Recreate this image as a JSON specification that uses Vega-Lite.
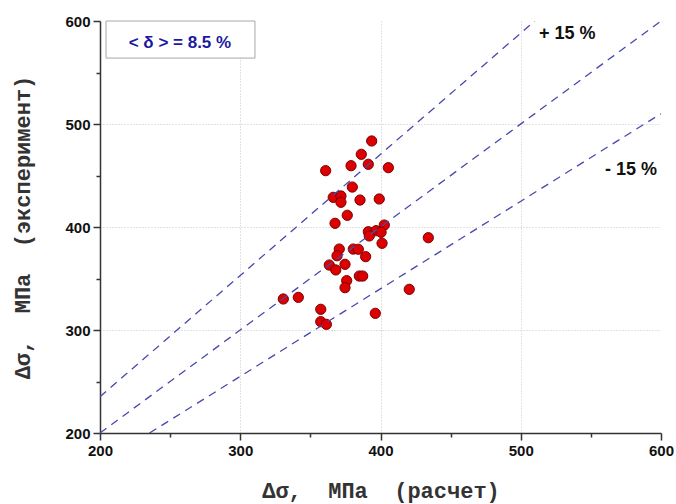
{
  "$schema": "https://vega.github.io/schema/vega-lite/v6.json",
  "width": 561,
  "height": 412,
  "autosize": "none",
  "padding": {"left": 100, "top": 21, "right": 15, "bottom": 71},
  "background": "white",
  "config": {"view": {"stroke": null}, "font": "Liberation Sans"},
  "datasets": {
    "points": [
      {"x": 393.7, "y": 483.5}, {"x": 386.3, "y": 470.6}, {"x": 379.0, "y": 459.5},
      {"x": 391.3, "y": 460.9}, {"x": 360.9, "y": 454.7}, {"x": 405.6, "y": 457.6},
      {"x": 379.9, "y": 438.8}, {"x": 366.3, "y": 428.8}, {"x": 371.8, "y": 430.1},
      {"x": 371.8, "y": 424.0}, {"x": 385.4, "y": 426.2}, {"x": 399.1, "y": 427.2},
      {"x": 376.3, "y": 411.4}, {"x": 367.6, "y": 403.6}, {"x": 391.3, "y": 395.4},
      {"x": 396.8, "y": 396.4}, {"x": 402.7, "y": 401.9}, {"x": 400.4, "y": 394.9},
      {"x": 392.0, "y": 391.3}, {"x": 401.1, "y": 384.2}, {"x": 434.1, "y": 389.6},
      {"x": 370.6, "y": 378.6}, {"x": 380.6, "y": 378.6}, {"x": 384.2, "y": 378.4},
      {"x": 369.0, "y": 372.1}, {"x": 389.4, "y": 371.2}, {"x": 363.5, "y": 363.1},
      {"x": 374.7, "y": 363.8}, {"x": 368.1, "y": 358.3}, {"x": 384.9, "y": 352.4},
      {"x": 387.3, "y": 352.4}, {"x": 375.9, "y": 347.9}, {"x": 374.7, "y": 341.1},
      {"x": 420.5, "y": 339.5}, {"x": 330.7, "y": 330.1}, {"x": 341.4, "y": 331.7},
      {"x": 357.4, "y": 320.1}, {"x": 396.3, "y": 316.2}, {"x": 357.4, "y": 308.1},
      {"x": 361.4, "y": 305.5}
    ],
    "lines": [
      {"s": "mid", "x": 200, "y": 200}, {"s": "mid", "x": 600, "y": 600},
      {"s": "up", "x": 200, "y": 235.3}, {"s": "up", "x": 510, "y": 600},
      {"s": "low", "x": 235.3, "y": 200}, {"s": "low", "x": 600, "y": 510}
    ],
    "box": [{"x": 204.3, "y": 600, "x2": 310.5, "y2": 564}],
    "boxlabel": [{"x": 257, "y": 579, "label": "< δ > = 8.5 %"}],
    "pct": [
      {"x": 513, "y": 587.4, "label": "+ 15 %"},
      {"x": 560, "y": 455.3, "label": "- 15 %"}
    ]
  },
  "encoding": {
    "x": {
      "field": "x", "type": "quantitative",
      "scale": {"domain": [200, 600], "nice": false, "zero": false},
      "axis": {
        "title": "Δσ,\u00a0 МПа\u00a0 (расчет)",
        "values": [200, 250, 300, 350, 400, 450, 500, 550, 600],
        "labelExpr": "datum.value % 100 === 0 ? datum.label : ''",
        "tickSize": {"condition": {"test": "datum.value % 100 === 0", "value": 7}, "value": 4},
        "grid": true,
        "gridOpacity": {"condition": {"test": "datum.value % 100 === 0 && datum.value > 200 && datum.value < 600", "value": 1}, "value": 0},
        "gridColor": "#c4c4c4", "gridDash": [1, 2], "gridWidth": 1,
        "domainColor": "#333333", "domainWidth": 1.5,
        "tickColor": "#333333", "tickWidth": 1.5,
        "labelFont": "Liberation Sans", "labelFontWeight": "bold", "labelFontSize": 15,
        "labelColor": "#111111", "labelPadding": 3, "labelFlush": false, "labelOverlap": false,
        "titleFont": "Liberation Mono", "titleFontWeight": "bold", "titleFontSize": 22,
        "titleColor": "#333333", "titleY": 57, "titleBaseline": "middle"
      }
    },
    "y": {
      "field": "y", "type": "quantitative",
      "scale": {"domain": [200, 600], "nice": false, "zero": false},
      "axis": {
        "title": "Δσ,\u00a0 МПа\u00a0 (эксперимент)",
        "values": [200, 250, 300, 350, 400, 450, 500, 550, 600],
        "labelExpr": "datum.value % 100 === 0 ? datum.label : ''",
        "tickSize": {"condition": {"test": "datum.value % 100 === 0", "value": 7}, "value": 4},
        "grid": true,
        "gridOpacity": {"condition": {"test": "datum.value % 100 === 0 && datum.value > 200 && datum.value < 600", "value": 1}, "value": 0},
        "gridColor": "#c4c4c4", "gridDash": [1, 2], "gridWidth": 1,
        "domainColor": "#333333", "domainWidth": 1.5,
        "tickColor": "#333333", "tickWidth": 1.5,
        "labelFont": "Liberation Sans", "labelFontWeight": "bold", "labelFontSize": 15,
        "labelColor": "#111111", "labelPadding": 3, "labelFlush": false, "labelOverlap": false,
        "titleFont": "Liberation Mono", "titleFontWeight": "bold", "titleFontSize": 22,
        "titleColor": "#333333", "titleX": -78, "titleY": 206, "titleAngle": 270,
        "titleAlign": "center", "titleBaseline": "middle"
      }
    }
  },
  "layer": [
    {
      "data": {"name": "points"},
      "mark": {"type": "circle", "fill": "#dd0000", "stroke": "#7a0000", "strokeWidth": 1, "size": 105, "opacity": 1}
    },
    {
      "data": {"name": "lines"},
      "mark": {"type": "line", "strokeDash": [8, 6], "color": "#4848b0", "strokeWidth": 1.3, "clip": true},
      "encoding": {"detail": {"field": "s"}}
    },
    {
      "data": {"name": "box"},
      "mark": {"type": "rect", "fill": "white", "stroke": "#a8a8a8", "strokeWidth": 1},
      "encoding": {"x2": {"field": "x2"}, "y2": {"field": "y2"}}
    },
    {
      "data": {"name": "boxlabel"},
      "mark": {"type": "text", "color": "#1a1aa0", "fontWeight": "bold", "fontSize": 17, "align": "center", "baseline": "middle", "font": "Liberation Sans"},
      "encoding": {"text": {"field": "label"}}
    },
    {
      "data": {"name": "pct"},
      "mark": {"type": "text", "color": "#111111", "fontWeight": "bold", "fontSize": 18, "align": "left", "baseline": "middle", "font": "Liberation Sans"},
      "encoding": {"text": {"field": "label"}}
    }
  ]
}
